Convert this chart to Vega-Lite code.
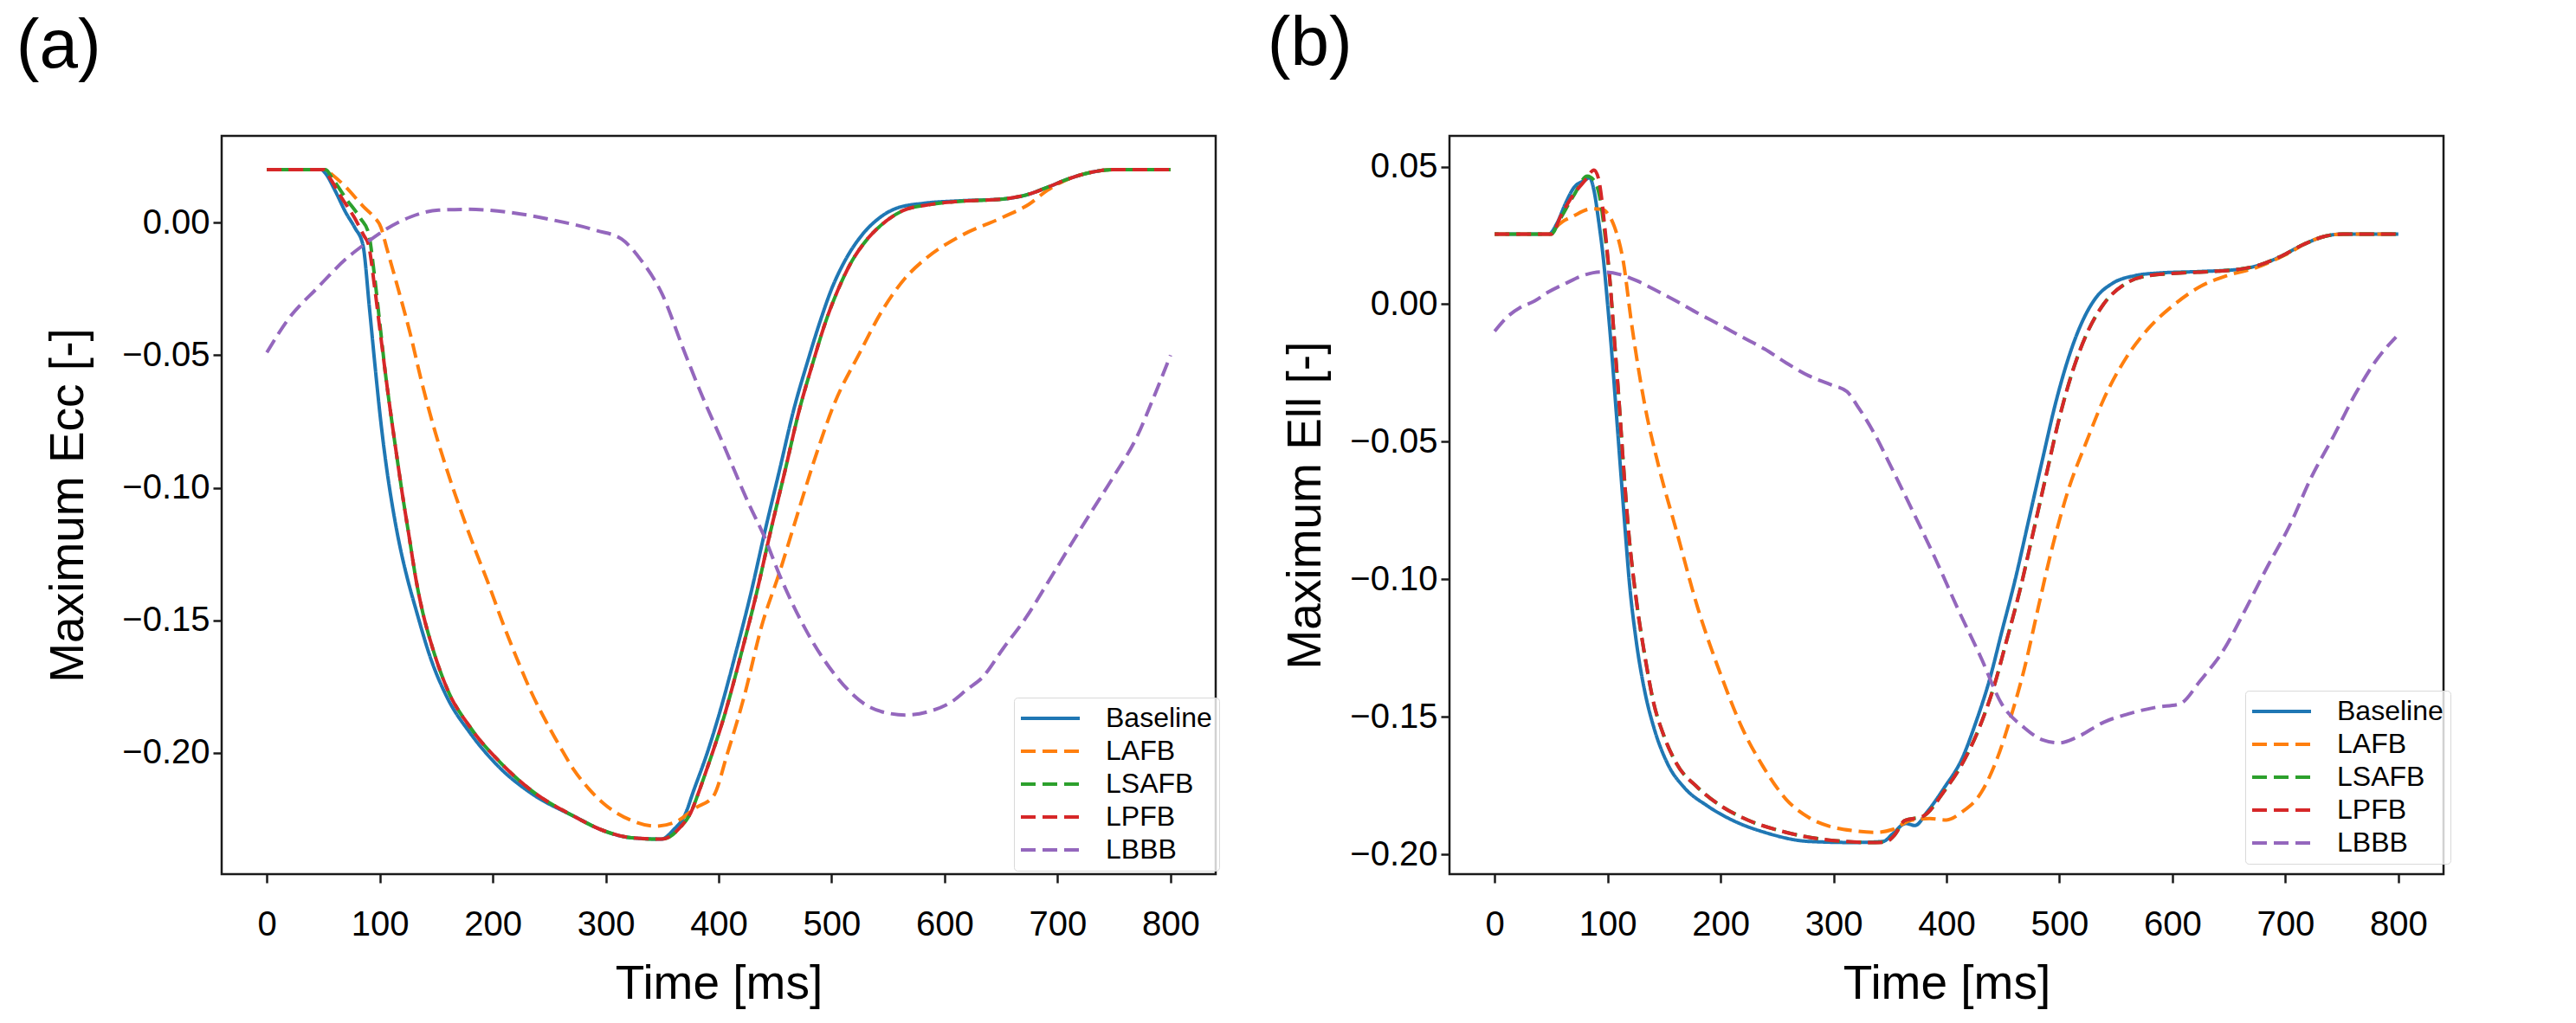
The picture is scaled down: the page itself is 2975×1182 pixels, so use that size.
{
  "$schema": "https://vega.github.io/schema/vega-lite/v6.json",
  "background": "white",
  "padding": {"left": 17, "top": 9, "right": 5, "bottom": 5},
  "spacing": 52,
  "datasets": {
    "ecc": [
      {"series": "Baseline", "time": 0, "value": 0.02},
      {"series": "Baseline", "time": 48, "value": 0.02},
      {"series": "Baseline", "time": 52, "value": 0.0185},
      {"series": "Baseline", "time": 60, "value": 0.0124},
      {"series": "Baseline", "time": 70, "value": 0.0037},
      {"series": "Baseline", "time": 78, "value": -0.002},
      {"series": "Baseline", "time": 85, "value": -0.0083},
      {"series": "Baseline", "time": 91, "value": -0.033},
      {"series": "Baseline", "time": 96, "value": -0.055},
      {"series": "Baseline", "time": 101, "value": -0.0755},
      {"series": "Baseline", "time": 106, "value": -0.0925},
      {"series": "Baseline", "time": 112, "value": -0.109},
      {"series": "Baseline", "time": 118, "value": -0.1225},
      {"series": "Baseline", "time": 124, "value": -0.1335},
      {"series": "Baseline", "time": 132, "value": -0.1459},
      {"series": "Baseline", "time": 145, "value": -0.1643},
      {"series": "Baseline", "time": 160, "value": -0.1794},
      {"series": "Baseline", "time": 180, "value": -0.1925},
      {"series": "Baseline", "time": 206, "value": -0.2055},
      {"series": "Baseline", "time": 234, "value": -0.2152},
      {"series": "Baseline", "time": 272, "value": -0.2239},
      {"series": "Baseline", "time": 298, "value": -0.2293},
      {"series": "Baseline", "time": 323, "value": -0.232},
      {"series": "Baseline", "time": 349, "value": -0.2325},
      {"series": "Baseline", "time": 360, "value": -0.229},
      {"series": "Baseline", "time": 371, "value": -0.2225},
      {"series": "Baseline", "time": 377, "value": -0.2152},
      {"series": "Baseline", "time": 390, "value": -0.1998},
      {"series": "Baseline", "time": 402, "value": -0.1831},
      {"series": "Baseline", "time": 415, "value": -0.1625},
      {"series": "Baseline", "time": 428, "value": -0.1407},
      {"series": "Baseline", "time": 441, "value": -0.1163},
      {"series": "Baseline", "time": 454, "value": -0.0931},
      {"series": "Baseline", "time": 466, "value": -0.0713},
      {"series": "Baseline", "time": 479, "value": -0.052},
      {"series": "Baseline", "time": 490, "value": -0.037},
      {"series": "Baseline", "time": 500, "value": -0.025},
      {"series": "Baseline", "time": 511, "value": -0.015},
      {"series": "Baseline", "time": 527, "value": -0.0046},
      {"series": "Baseline", "time": 543, "value": 0.002},
      {"series": "Baseline", "time": 558, "value": 0.0055},
      {"series": "Baseline", "time": 582, "value": 0.0073},
      {"series": "Baseline", "time": 613, "value": 0.0082},
      {"series": "Baseline", "time": 652, "value": 0.0089},
      {"series": "Baseline", "time": 672, "value": 0.0104},
      {"series": "Baseline", "time": 691, "value": 0.0133},
      {"series": "Baseline", "time": 711, "value": 0.0167},
      {"series": "Baseline", "time": 730, "value": 0.019},
      {"series": "Baseline", "time": 750, "value": 0.02},
      {"series": "Baseline", "time": 800, "value": 0.02},

      {"series": "LAFB", "time": 0, "value": 0.02},
      {"series": "LAFB", "time": 52, "value": 0.02},
      {"series": "LAFB", "time": 58, "value": 0.018},
      {"series": "LAFB", "time": 70, "value": 0.0134},
      {"series": "LAFB", "time": 86, "value": 0.0058},
      {"series": "LAFB", "time": 94, "value": 0.0025},
      {"series": "LAFB", "time": 101, "value": -0.0018},
      {"series": "LAFB", "time": 106, "value": -0.0094},
      {"series": "LAFB", "time": 116, "value": -0.0246},
      {"series": "LAFB", "time": 127, "value": -0.042},
      {"series": "LAFB", "time": 137, "value": -0.06},
      {"series": "LAFB", "time": 147, "value": -0.076},
      {"series": "LAFB", "time": 160, "value": -0.094},
      {"series": "LAFB", "time": 172, "value": -0.109},
      {"series": "LAFB", "time": 185, "value": -0.124},
      {"series": "LAFB", "time": 196, "value": -0.136},
      {"series": "LAFB", "time": 208, "value": -0.15},
      {"series": "LAFB", "time": 221, "value": -0.164},
      {"series": "LAFB", "time": 234, "value": -0.177},
      {"series": "LAFB", "time": 247, "value": -0.188},
      {"series": "LAFB", "time": 260, "value": -0.198},
      {"series": "LAFB", "time": 272, "value": -0.2065},
      {"series": "LAFB", "time": 285, "value": -0.2135},
      {"series": "LAFB", "time": 298, "value": -0.219},
      {"series": "LAFB", "time": 323, "value": -0.2255},
      {"series": "LAFB", "time": 344, "value": -0.2276},
      {"series": "LAFB", "time": 362, "value": -0.226},
      {"series": "LAFB", "time": 380, "value": -0.2206},
      {"series": "LAFB", "time": 395, "value": -0.2165},
      {"series": "LAFB", "time": 408, "value": -0.1998},
      {"series": "LAFB", "time": 423, "value": -0.178},
      {"series": "LAFB", "time": 438, "value": -0.1522},
      {"series": "LAFB", "time": 454, "value": -0.1317},
      {"series": "LAFB", "time": 469, "value": -0.111},
      {"series": "LAFB", "time": 484, "value": -0.0905},
      {"series": "LAFB", "time": 502, "value": -0.0687},
      {"series": "LAFB", "time": 525, "value": -0.049},
      {"series": "LAFB", "time": 545, "value": -0.033},
      {"series": "LAFB", "time": 565, "value": -0.021},
      {"series": "LAFB", "time": 585, "value": -0.013},
      {"series": "LAFB", "time": 613, "value": -0.0053},
      {"series": "LAFB", "time": 652, "value": 0.0021},
      {"series": "LAFB", "time": 675, "value": 0.007},
      {"series": "LAFB", "time": 691, "value": 0.0122},
      {"series": "LAFB", "time": 711, "value": 0.0167},
      {"series": "LAFB", "time": 730, "value": 0.019},
      {"series": "LAFB", "time": 750, "value": 0.02},
      {"series": "LAFB", "time": 800, "value": 0.02},

      {"series": "LSAFB", "time": 0, "value": 0.02},
      {"series": "LSAFB", "time": 52, "value": 0.02},
      {"series": "LSAFB", "time": 58, "value": 0.0167},
      {"series": "LSAFB", "time": 70, "value": 0.0091},
      {"series": "LSAFB", "time": 83, "value": 0.0015},
      {"series": "LSAFB", "time": 90, "value": -0.0039},
      {"series": "LSAFB", "time": 95, "value": -0.019},
      {"series": "LSAFB", "time": 100, "value": -0.038},
      {"series": "LSAFB", "time": 105, "value": -0.057},
      {"series": "LSAFB", "time": 110, "value": -0.073},
      {"series": "LSAFB", "time": 115, "value": -0.088},
      {"series": "LSAFB", "time": 120, "value": -0.1025},
      {"series": "LSAFB", "time": 126, "value": -0.1185},
      {"series": "LSAFB", "time": 132, "value": -0.1345},
      {"series": "LSAFB", "time": 138, "value": -0.147},
      {"series": "LSAFB", "time": 145, "value": -0.158},
      {"series": "LSAFB", "time": 160, "value": -0.1762},
      {"series": "LSAFB", "time": 180, "value": -0.1903},
      {"series": "LSAFB", "time": 206, "value": -0.2033},
      {"series": "LSAFB", "time": 234, "value": -0.2141},
      {"series": "LSAFB", "time": 272, "value": -0.2239},
      {"series": "LSAFB", "time": 298, "value": -0.2293},
      {"series": "LSAFB", "time": 323, "value": -0.232},
      {"series": "LSAFB", "time": 349, "value": -0.2325},
      {"series": "LSAFB", "time": 357, "value": -0.2315},
      {"series": "LSAFB", "time": 366, "value": -0.228},
      {"series": "LSAFB", "time": 375, "value": -0.2228},
      {"series": "LSAFB", "time": 382, "value": -0.2152},
      {"series": "LSAFB", "time": 390, "value": -0.2055},
      {"series": "LSAFB", "time": 405, "value": -0.186},
      {"series": "LSAFB", "time": 420, "value": -0.1625},
      {"series": "LSAFB", "time": 433, "value": -0.1407},
      {"series": "LSAFB", "time": 446, "value": -0.1163},
      {"series": "LSAFB", "time": 459, "value": -0.0931},
      {"series": "LSAFB", "time": 471, "value": -0.0713},
      {"series": "LSAFB", "time": 484, "value": -0.052},
      {"series": "LSAFB", "time": 495, "value": -0.037},
      {"series": "LSAFB", "time": 505, "value": -0.026},
      {"series": "LSAFB", "time": 516, "value": -0.016},
      {"series": "LSAFB", "time": 532, "value": -0.006},
      {"series": "LSAFB", "time": 548, "value": 0.0005},
      {"series": "LSAFB", "time": 563, "value": 0.0045},
      {"series": "LSAFB", "time": 587, "value": 0.0068},
      {"series": "LSAFB", "time": 613, "value": 0.008},
      {"series": "LSAFB", "time": 652, "value": 0.0089},
      {"series": "LSAFB", "time": 672, "value": 0.0104},
      {"series": "LSAFB", "time": 691, "value": 0.0133},
      {"series": "LSAFB", "time": 711, "value": 0.0167},
      {"series": "LSAFB", "time": 730, "value": 0.019},
      {"series": "LSAFB", "time": 750, "value": 0.02},
      {"series": "LSAFB", "time": 800, "value": 0.02},

      {"series": "LPFB", "time": 0, "value": 0.02},
      {"series": "LPFB", "time": 50, "value": 0.02},
      {"series": "LPFB", "time": 57, "value": 0.016},
      {"series": "LPFB", "time": 65, "value": 0.0102},
      {"series": "LPFB", "time": 78, "value": 0.0015},
      {"series": "LPFB", "time": 86, "value": -0.005},
      {"series": "LPFB", "time": 90, "value": -0.0083},
      {"series": "LPFB", "time": 95, "value": -0.023},
      {"series": "LPFB", "time": 100, "value": -0.04},
      {"series": "LPFB", "time": 105, "value": -0.057},
      {"series": "LPFB", "time": 110, "value": -0.073},
      {"series": "LPFB", "time": 115, "value": -0.088},
      {"series": "LPFB", "time": 120, "value": -0.1025},
      {"series": "LPFB", "time": 126, "value": -0.1185},
      {"series": "LPFB", "time": 132, "value": -0.1345},
      {"series": "LPFB", "time": 138, "value": -0.147},
      {"series": "LPFB", "time": 145, "value": -0.158},
      {"series": "LPFB", "time": 160, "value": -0.1762},
      {"series": "LPFB", "time": 180, "value": -0.1903},
      {"series": "LPFB", "time": 206, "value": -0.2033},
      {"series": "LPFB", "time": 234, "value": -0.2141},
      {"series": "LPFB", "time": 272, "value": -0.2239},
      {"series": "LPFB", "time": 298, "value": -0.2293},
      {"series": "LPFB", "time": 323, "value": -0.232},
      {"series": "LPFB", "time": 349, "value": -0.2325},
      {"series": "LPFB", "time": 357, "value": -0.2315},
      {"series": "LPFB", "time": 366, "value": -0.228},
      {"series": "LPFB", "time": 375, "value": -0.2228},
      {"series": "LPFB", "time": 382, "value": -0.2152},
      {"series": "LPFB", "time": 390, "value": -0.2055},
      {"series": "LPFB", "time": 405, "value": -0.186},
      {"series": "LPFB", "time": 420, "value": -0.1625},
      {"series": "LPFB", "time": 433, "value": -0.1407},
      {"series": "LPFB", "time": 446, "value": -0.1163},
      {"series": "LPFB", "time": 459, "value": -0.0931},
      {"series": "LPFB", "time": 471, "value": -0.0713},
      {"series": "LPFB", "time": 484, "value": -0.052},
      {"series": "LPFB", "time": 495, "value": -0.037},
      {"series": "LPFB", "time": 505, "value": -0.026},
      {"series": "LPFB", "time": 516, "value": -0.016},
      {"series": "LPFB", "time": 532, "value": -0.006},
      {"series": "LPFB", "time": 548, "value": 0.0005},
      {"series": "LPFB", "time": 563, "value": 0.0045},
      {"series": "LPFB", "time": 587, "value": 0.0068},
      {"series": "LPFB", "time": 613, "value": 0.008},
      {"series": "LPFB", "time": 652, "value": 0.0089},
      {"series": "LPFB", "time": 672, "value": 0.0104},
      {"series": "LPFB", "time": 691, "value": 0.0133},
      {"series": "LPFB", "time": 711, "value": 0.0167},
      {"series": "LPFB", "time": 730, "value": 0.019},
      {"series": "LPFB", "time": 750, "value": 0.02},
      {"series": "LPFB", "time": 800, "value": 0.02},

      {"series": "LBBB", "time": 0, "value": -0.049},
      {"series": "LBBB", "time": 19, "value": -0.0364},
      {"series": "LBBB", "time": 45, "value": -0.0245},
      {"series": "LBBB", "time": 70, "value": -0.0137},
      {"series": "LBBB", "time": 86, "value": -0.0083},
      {"series": "LBBB", "time": 104, "value": -0.0029},
      {"series": "LBBB", "time": 127, "value": 0.0021},
      {"series": "LBBB", "time": 152, "value": 0.0047},
      {"series": "LBBB", "time": 178, "value": 0.005},
      {"series": "LBBB", "time": 214, "value": 0.0039},
      {"series": "LBBB", "time": 253, "value": 0.001},
      {"series": "LBBB", "time": 292, "value": -0.003},
      {"series": "LBBB", "time": 314, "value": -0.0062},
      {"series": "LBBB", "time": 331, "value": -0.014},
      {"series": "LBBB", "time": 350, "value": -0.027},
      {"series": "LBBB", "time": 369, "value": -0.048},
      {"series": "LBBB", "time": 385, "value": -0.065},
      {"series": "LBBB", "time": 402, "value": -0.0815},
      {"series": "LBBB", "time": 428, "value": -0.1073},
      {"series": "LBBB", "time": 440, "value": -0.118},
      {"series": "LBBB", "time": 454, "value": -0.133},
      {"series": "LBBB", "time": 479, "value": -0.155},
      {"series": "LBBB", "time": 505, "value": -0.1716},
      {"series": "LBBB", "time": 530, "value": -0.1818},
      {"series": "LBBB", "time": 550, "value": -0.185},
      {"series": "LBBB", "time": 566, "value": -0.1857},
      {"series": "LBBB", "time": 585, "value": -0.1845},
      {"series": "LBBB", "time": 607, "value": -0.1805},
      {"series": "LBBB", "time": 620, "value": -0.176},
      {"series": "LBBB", "time": 633, "value": -0.1717},
      {"series": "LBBB", "time": 652, "value": -0.1605},
      {"series": "LBBB", "time": 672, "value": -0.149},
      {"series": "LBBB", "time": 691, "value": -0.136},
      {"series": "LBBB", "time": 711, "value": -0.122},
      {"series": "LBBB", "time": 730, "value": -0.109},
      {"series": "LBBB", "time": 750, "value": -0.0955},
      {"series": "LBBB", "time": 770, "value": -0.081},
      {"series": "LBBB", "time": 785, "value": -0.066},
      {"series": "LBBB", "time": 800, "value": -0.05}
    ],
    "ell": [
      {"series": "Baseline", "time": 0, "value": 0.0255},
      {"series": "Baseline", "time": 48, "value": 0.0255},
      {"series": "Baseline", "time": 55, "value": 0.0293},
      {"series": "Baseline", "time": 63, "value": 0.0369},
      {"series": "Baseline", "time": 70, "value": 0.0423},
      {"series": "Baseline", "time": 80, "value": 0.0451},
      {"series": "Baseline", "time": 84, "value": 0.046},
      {"series": "Baseline", "time": 88, "value": 0.0412},
      {"series": "Baseline", "time": 92, "value": 0.0304},
      {"series": "Baseline", "time": 96, "value": 0.0174},
      {"series": "Baseline", "time": 100, "value": 0.0},
      {"series": "Baseline", "time": 104, "value": -0.0195},
      {"series": "Baseline", "time": 108, "value": -0.0412},
      {"series": "Baseline", "time": 112, "value": -0.063},
      {"series": "Baseline", "time": 116, "value": -0.0846},
      {"series": "Baseline", "time": 119, "value": -0.1},
      {"series": "Baseline", "time": 125, "value": -0.1215},
      {"series": "Baseline", "time": 133, "value": -0.141},
      {"series": "Baseline", "time": 141, "value": -0.154},
      {"series": "Baseline", "time": 153, "value": -0.167},
      {"series": "Baseline", "time": 168, "value": -0.1758},
      {"series": "Baseline", "time": 188, "value": -0.1823},
      {"series": "Baseline", "time": 211, "value": -0.1877},
      {"series": "Baseline", "time": 239, "value": -0.192},
      {"series": "Baseline", "time": 278, "value": -0.1953},
      {"series": "Baseline", "time": 317, "value": -0.1957},
      {"series": "Baseline", "time": 344, "value": -0.1953},
      {"series": "Baseline", "time": 352, "value": -0.1927},
      {"series": "Baseline", "time": 364, "value": -0.1888},
      {"series": "Baseline", "time": 372, "value": -0.1895},
      {"series": "Baseline", "time": 383, "value": -0.1845},
      {"series": "Baseline", "time": 398, "value": -0.1758},
      {"series": "Baseline", "time": 414, "value": -0.165},
      {"series": "Baseline", "time": 426, "value": -0.152},
      {"series": "Baseline", "time": 438, "value": -0.1367},
      {"series": "Baseline", "time": 449, "value": -0.119},
      {"series": "Baseline", "time": 461, "value": -0.0998},
      {"series": "Baseline", "time": 473, "value": -0.0781},
      {"series": "Baseline", "time": 485, "value": -0.0564},
      {"series": "Baseline", "time": 496, "value": -0.0369},
      {"series": "Baseline", "time": 508, "value": -0.0195},
      {"series": "Baseline", "time": 520, "value": -0.0065},
      {"series": "Baseline", "time": 532, "value": 0.0022},
      {"series": "Baseline", "time": 547, "value": 0.0076},
      {"series": "Baseline", "time": 567, "value": 0.0104},
      {"series": "Baseline", "time": 586, "value": 0.0113},
      {"series": "Baseline", "time": 625, "value": 0.0119},
      {"series": "Baseline", "time": 657, "value": 0.0126},
      {"series": "Baseline", "time": 676, "value": 0.0141},
      {"series": "Baseline", "time": 696, "value": 0.0174},
      {"series": "Baseline", "time": 716, "value": 0.0217},
      {"series": "Baseline", "time": 735, "value": 0.0247},
      {"series": "Baseline", "time": 751, "value": 0.0255},
      {"series": "Baseline", "time": 800, "value": 0.0255},

      {"series": "LAFB", "time": 0, "value": 0.0255},
      {"series": "LAFB", "time": 50, "value": 0.0255},
      {"series": "LAFB", "time": 55, "value": 0.0282},
      {"series": "LAFB", "time": 70, "value": 0.0321},
      {"series": "LAFB", "time": 86, "value": 0.0347},
      {"series": "LAFB", "time": 95, "value": 0.0345},
      {"series": "LAFB", "time": 100, "value": 0.033},
      {"series": "LAFB", "time": 106, "value": 0.0282},
      {"series": "LAFB", "time": 114, "value": 0.0152},
      {"series": "LAFB", "time": 121, "value": -0.0065},
      {"series": "LAFB", "time": 133, "value": -0.0369},
      {"series": "LAFB", "time": 145, "value": -0.0586},
      {"series": "LAFB", "time": 161, "value": -0.0825},
      {"series": "LAFB", "time": 180, "value": -0.1107},
      {"series": "LAFB", "time": 200, "value": -0.1345},
      {"series": "LAFB", "time": 219, "value": -0.154},
      {"series": "LAFB", "time": 239, "value": -0.169},
      {"series": "LAFB", "time": 258, "value": -0.18},
      {"series": "LAFB", "time": 278, "value": -0.1866},
      {"series": "LAFB", "time": 298, "value": -0.19},
      {"series": "LAFB", "time": 317, "value": -0.1914},
      {"series": "LAFB", "time": 337, "value": -0.192},
      {"series": "LAFB", "time": 352, "value": -0.191},
      {"series": "LAFB", "time": 368, "value": -0.1877},
      {"series": "LAFB", "time": 385, "value": -0.187},
      {"series": "LAFB", "time": 400, "value": -0.1875},
      {"series": "LAFB", "time": 414, "value": -0.1845},
      {"series": "LAFB", "time": 430, "value": -0.178},
      {"series": "LAFB", "time": 445, "value": -0.165},
      {"series": "LAFB", "time": 457, "value": -0.15},
      {"series": "LAFB", "time": 469, "value": -0.1324},
      {"series": "LAFB", "time": 481, "value": -0.1107},
      {"series": "LAFB", "time": 492, "value": -0.0911},
      {"series": "LAFB", "time": 508, "value": -0.0673},
      {"series": "LAFB", "time": 524, "value": -0.0499},
      {"series": "LAFB", "time": 539, "value": -0.0347},
      {"series": "LAFB", "time": 559, "value": -0.0195},
      {"series": "LAFB", "time": 579, "value": -0.0087},
      {"series": "LAFB", "time": 602, "value": 0.0},
      {"series": "LAFB", "time": 625, "value": 0.0065},
      {"series": "LAFB", "time": 649, "value": 0.0105},
      {"series": "LAFB", "time": 672, "value": 0.013},
      {"series": "LAFB", "time": 690, "value": 0.016},
      {"series": "LAFB", "time": 705, "value": 0.019},
      {"series": "LAFB", "time": 716, "value": 0.0217},
      {"series": "LAFB", "time": 735, "value": 0.0247},
      {"series": "LAFB", "time": 751, "value": 0.0255},
      {"series": "LAFB", "time": 800, "value": 0.0255},

      {"series": "LSAFB", "time": 0, "value": 0.0255},
      {"series": "LSAFB", "time": 50, "value": 0.0255},
      {"series": "LSAFB", "time": 58, "value": 0.031},
      {"series": "LSAFB", "time": 70, "value": 0.0395},
      {"series": "LSAFB", "time": 82, "value": 0.0466},
      {"series": "LSAFB", "time": 88, "value": 0.045},
      {"series": "LSAFB", "time": 93, "value": 0.039},
      {"series": "LSAFB", "time": 98, "value": 0.024},
      {"series": "LSAFB", "time": 102, "value": 0.0087},
      {"series": "LSAFB", "time": 106, "value": -0.013},
      {"series": "LSAFB", "time": 110, "value": -0.0347},
      {"series": "LSAFB", "time": 114, "value": -0.0586},
      {"series": "LSAFB", "time": 119, "value": -0.0846},
      {"series": "LSAFB", "time": 125, "value": -0.1063},
      {"series": "LSAFB", "time": 133, "value": -0.128},
      {"series": "LSAFB", "time": 141, "value": -0.1454},
      {"series": "LSAFB", "time": 149, "value": -0.156},
      {"series": "LSAFB", "time": 161, "value": -0.167},
      {"series": "LSAFB", "time": 180, "value": -0.1758},
      {"series": "LSAFB", "time": 200, "value": -0.1823},
      {"series": "LSAFB", "time": 219, "value": -0.1866},
      {"series": "LSAFB", "time": 258, "value": -0.192},
      {"series": "LSAFB", "time": 298, "value": -0.1949},
      {"series": "LSAFB", "time": 337, "value": -0.1957},
      {"series": "LSAFB", "time": 346, "value": -0.1955},
      {"series": "LSAFB", "time": 354, "value": -0.193},
      {"series": "LSAFB", "time": 363, "value": -0.1877},
      {"series": "LSAFB", "time": 379, "value": -0.1862},
      {"series": "LSAFB", "time": 398, "value": -0.177},
      {"series": "LSAFB", "time": 414, "value": -0.167},
      {"series": "LSAFB", "time": 430, "value": -0.153},
      {"series": "LSAFB", "time": 442, "value": -0.139},
      {"series": "LSAFB", "time": 453, "value": -0.1226},
      {"series": "LSAFB", "time": 465, "value": -0.104},
      {"series": "LSAFB", "time": 477, "value": -0.0825},
      {"series": "LSAFB", "time": 489, "value": -0.0608},
      {"series": "LSAFB", "time": 500, "value": -0.0412},
      {"series": "LSAFB", "time": 512, "value": -0.0239},
      {"series": "LSAFB", "time": 524, "value": -0.0109},
      {"series": "LSAFB", "time": 539, "value": 0.0},
      {"series": "LSAFB", "time": 559, "value": 0.0076},
      {"series": "LSAFB", "time": 579, "value": 0.0104},
      {"series": "LSAFB", "time": 606, "value": 0.0113},
      {"series": "LSAFB", "time": 640, "value": 0.012},
      {"series": "LSAFB", "time": 657, "value": 0.0126},
      {"series": "LSAFB", "time": 676, "value": 0.0141},
      {"series": "LSAFB", "time": 696, "value": 0.0174},
      {"series": "LSAFB", "time": 716, "value": 0.0217},
      {"series": "LSAFB", "time": 735, "value": 0.0247},
      {"series": "LSAFB", "time": 751, "value": 0.0255},
      {"series": "LSAFB", "time": 800, "value": 0.0255},

      {"series": "LPFB", "time": 0, "value": 0.0255},
      {"series": "LPFB", "time": 50, "value": 0.0255},
      {"series": "LPFB", "time": 59, "value": 0.0325},
      {"series": "LPFB", "time": 70, "value": 0.04},
      {"series": "LPFB", "time": 80, "value": 0.045},
      {"series": "LPFB", "time": 88, "value": 0.0488},
      {"series": "LPFB", "time": 92, "value": 0.0455},
      {"series": "LPFB", "time": 98, "value": 0.026},
      {"series": "LPFB", "time": 102, "value": 0.0087},
      {"series": "LPFB", "time": 106, "value": -0.013},
      {"series": "LPFB", "time": 110, "value": -0.0347},
      {"series": "LPFB", "time": 114, "value": -0.0586},
      {"series": "LPFB", "time": 119, "value": -0.0846},
      {"series": "LPFB", "time": 125, "value": -0.1063},
      {"series": "LPFB", "time": 133, "value": -0.128},
      {"series": "LPFB", "time": 141, "value": -0.1454},
      {"series": "LPFB", "time": 149, "value": -0.156},
      {"series": "LPFB", "time": 161, "value": -0.167},
      {"series": "LPFB", "time": 180, "value": -0.1758},
      {"series": "LPFB", "time": 200, "value": -0.1823},
      {"series": "LPFB", "time": 219, "value": -0.1866},
      {"series": "LPFB", "time": 258, "value": -0.192},
      {"series": "LPFB", "time": 298, "value": -0.1949},
      {"series": "LPFB", "time": 337, "value": -0.1957},
      {"series": "LPFB", "time": 346, "value": -0.1955},
      {"series": "LPFB", "time": 354, "value": -0.193},
      {"series": "LPFB", "time": 363, "value": -0.1877},
      {"series": "LPFB", "time": 379, "value": -0.1862},
      {"series": "LPFB", "time": 398, "value": -0.177},
      {"series": "LPFB", "time": 414, "value": -0.167},
      {"series": "LPFB", "time": 430, "value": -0.153},
      {"series": "LPFB", "time": 442, "value": -0.139},
      {"series": "LPFB", "time": 453, "value": -0.1226},
      {"series": "LPFB", "time": 465, "value": -0.104},
      {"series": "LPFB", "time": 477, "value": -0.0825},
      {"series": "LPFB", "time": 489, "value": -0.0608},
      {"series": "LPFB", "time": 500, "value": -0.0412},
      {"series": "LPFB", "time": 512, "value": -0.0239},
      {"series": "LPFB", "time": 524, "value": -0.0109},
      {"series": "LPFB", "time": 539, "value": 0.0},
      {"series": "LPFB", "time": 559, "value": 0.0076},
      {"series": "LPFB", "time": 579, "value": 0.0104},
      {"series": "LPFB", "time": 606, "value": 0.0113},
      {"series": "LPFB", "time": 640, "value": 0.012},
      {"series": "LPFB", "time": 657, "value": 0.0126},
      {"series": "LPFB", "time": 676, "value": 0.0141},
      {"series": "LPFB", "time": 696, "value": 0.0174},
      {"series": "LPFB", "time": 716, "value": 0.0217},
      {"series": "LPFB", "time": 735, "value": 0.0247},
      {"series": "LPFB", "time": 751, "value": 0.0255},
      {"series": "LPFB", "time": 800, "value": 0.0255},

      {"series": "LBBB", "time": 0, "value": -0.0098},
      {"series": "LBBB", "time": 12, "value": -0.0043},
      {"series": "LBBB", "time": 23, "value": -0.0011},
      {"series": "LBBB", "time": 35, "value": 0.0011},
      {"series": "LBBB", "time": 47, "value": 0.0043},
      {"series": "LBBB", "time": 63, "value": 0.0076},
      {"series": "LBBB", "time": 78, "value": 0.0104},
      {"series": "LBBB", "time": 94, "value": 0.0117},
      {"series": "LBBB", "time": 110, "value": 0.0109},
      {"series": "LBBB", "time": 125, "value": 0.0087},
      {"series": "LBBB", "time": 141, "value": 0.0054},
      {"series": "LBBB", "time": 161, "value": 0.0011},
      {"series": "LBBB", "time": 180, "value": -0.0033},
      {"series": "LBBB", "time": 200, "value": -0.0076},
      {"series": "LBBB", "time": 219, "value": -0.0119},
      {"series": "LBBB", "time": 239, "value": -0.0163},
      {"series": "LBBB", "time": 258, "value": -0.0213},
      {"series": "LBBB", "time": 278, "value": -0.026},
      {"series": "LBBB", "time": 298, "value": -0.0293},
      {"series": "LBBB", "time": 312, "value": -0.0318},
      {"series": "LBBB", "time": 321, "value": -0.0369},
      {"series": "LBBB", "time": 337, "value": -0.0477},
      {"series": "LBBB", "time": 352, "value": -0.06},
      {"series": "LBBB", "time": 371, "value": -0.076},
      {"series": "LBBB", "time": 391, "value": -0.0933},
      {"series": "LBBB", "time": 410, "value": -0.1107},
      {"series": "LBBB", "time": 430, "value": -0.128},
      {"series": "LBBB", "time": 449, "value": -0.1454},
      {"series": "LBBB", "time": 469, "value": -0.154},
      {"series": "LBBB", "time": 485, "value": -0.1584},
      {"series": "LBBB", "time": 500, "value": -0.1595},
      {"series": "LBBB", "time": 516, "value": -0.1573},
      {"series": "LBBB", "time": 539, "value": -0.152},
      {"series": "LBBB", "time": 563, "value": -0.1487},
      {"series": "LBBB", "time": 586, "value": -0.1465},
      {"series": "LBBB", "time": 606, "value": -0.1454},
      {"series": "LBBB", "time": 625, "value": -0.1367},
      {"series": "LBBB", "time": 645, "value": -0.1259},
      {"series": "LBBB", "time": 665, "value": -0.1107},
      {"series": "LBBB", "time": 684, "value": -0.0955},
      {"series": "LBBB", "time": 704, "value": -0.0803},
      {"series": "LBBB", "time": 723, "value": -0.0629},
      {"series": "LBBB", "time": 743, "value": -0.0477},
      {"series": "LBBB", "time": 762, "value": -0.0326},
      {"series": "LBBB", "time": 782, "value": -0.0195},
      {"series": "LBBB", "time": 798, "value": -0.0119}
    ]
  },
  "hconcat": [
    {
      "width": 1148,
      "height": 853,
      "data": {"name": "ecc"},
      "title": {"text": "(a)", "anchor": "start", "fontSize": 80, "fontWeight": "normal", "baseline": "alphabetic", "offset": -1, "dx": -33, "color": "#000"},
      "encoding": {
        "x": {"field": "time", "type": "quantitative", "scale": {"domain": [-40, 840], "nice": false, "zero": false},
              "axis": {"title": "Time [ms]", "values": [0, 100, 200, 300, 400, 500, 600, 700, 800], "format": "d"}},
        "y": {"field": "value", "type": "quantitative", "scale": {"domain": [-0.2457, 0.0327], "nice": false, "zero": false},
              "axis": {"title": "Maximum Ecc [-]", "values": [-0.2, -0.15, -0.1, -0.05, 0], "format": ".2f", "titlePadding": 33}},
        "color": {"field": "series", "type": "nominal",
                  "scale": {"domain": ["Baseline", "LAFB", "LSAFB", "LPFB", "LBBB"], "range": ["#1f77b4", "#ff7f0e", "#2ca02c", "#d62728", "#9467bd"]},
                  "legend": {"title": null, "legendX": 915, "legendY": 649,
                             "encode": {"symbols": {"update": {"strokeDash": {"signal": "datum.value === 'Baseline' ? [1, 0] : [17, 17]"}}}}}},
        "strokeDash": {"field": "series", "type": "nominal",
                  "scale": {"domain": ["Baseline", "LAFB", "LSAFB", "LPFB", "LBBB"], "range": [[1, 0], [17, 8], [17, 8], [17, 8], [17, 8]]},
                  "legend": null}
      },
      "layer": [
        {"transform": [{"filter": "datum.series === 'Baseline'"}], "mark": {"type": "line", "strokeWidth": 4, "interpolate": "monotone"}},
        {"transform": [{"filter": "datum.series === 'LAFB'"}], "mark": {"type": "line", "strokeWidth": 4, "interpolate": "monotone"}},
        {"transform": [{"filter": "datum.series === 'LSAFB'"}], "mark": {"type": "line", "strokeWidth": 4, "interpolate": "monotone", "strokeDashOffset": 12.5}},
        {"transform": [{"filter": "datum.series === 'LPFB'"}], "mark": {"type": "line", "strokeWidth": 4, "interpolate": "monotone"}},
        {"transform": [{"filter": "datum.series === 'LBBB'"}], "mark": {"type": "line", "strokeWidth": 4, "interpolate": "monotone"}}
      ]
    },
    {
      "width": 1148,
      "height": 853,
      "data": {"name": "ell"},
      "title": {"text": "(b)", "anchor": "start", "fontSize": 80, "fontWeight": "normal", "baseline": "alphabetic", "offset": 2, "dx": -17, "color": "#000"},
      "encoding": {
        "x": {"field": "time", "type": "quantitative", "scale": {"domain": [-40, 840], "nice": false, "zero": false},
              "axis": {"title": "Time [ms]", "values": [0, 100, 200, 300, 400, 500, 600, 700, 800], "format": "d"}},
        "y": {"field": "value", "type": "quantitative", "scale": {"domain": [-0.2072, 0.0612], "nice": false, "zero": false},
              "axis": {"title": "Maximum Ell [-]", "values": [-0.2, -0.15, -0.1, -0.05, 0, 0.05], "format": ".2f", "titlePadding": 22}},
        "color": {"field": "series", "type": "nominal",
                  "scale": {"domain": ["Baseline", "LAFB", "LSAFB", "LPFB", "LBBB"], "range": ["#1f77b4", "#ff7f0e", "#2ca02c", "#d62728", "#9467bd"]},
                  "legend": {"title": null, "legendX": 919, "legendY": 641,
                             "encode": {"symbols": {"update": {"strokeDash": {"signal": "datum.value === 'Baseline' ? [1, 0] : [17, 17]"}}}}}},
        "strokeDash": {"field": "series", "type": "nominal",
                  "scale": {"domain": ["Baseline", "LAFB", "LSAFB", "LPFB", "LBBB"], "range": [[1, 0], [17, 8], [17, 8], [17, 8], [17, 8]]},
                  "legend": null}
      },
      "layer": [
        {"transform": [{"filter": "datum.series === 'Baseline'"}], "mark": {"type": "line", "strokeWidth": 4, "interpolate": "monotone"}},
        {"transform": [{"filter": "datum.series === 'LAFB'"}], "mark": {"type": "line", "strokeWidth": 4, "interpolate": "monotone"}},
        {"transform": [{"filter": "datum.series === 'LSAFB'"}], "mark": {"type": "line", "strokeWidth": 4, "interpolate": "monotone", "strokeDashOffset": 12.5}},
        {"transform": [{"filter": "datum.series === 'LPFB'"}], "mark": {"type": "line", "strokeWidth": 4, "interpolate": "monotone"}},
        {"transform": [{"filter": "datum.series === 'LBBB'"}], "mark": {"type": "line", "strokeWidth": 4, "interpolate": "monotone"}}
      ]
    }
  ],
  "resolve": {
    "scale": {"x": "independent", "y": "independent", "color": "independent", "strokeDash": "independent"},
    "legend": {"color": "independent", "strokeDash": "independent"}
  },
  "config": {
    "font": "Liberation Sans",
    "view": {"stroke": "#1a1a1a", "strokeWidth": 2.5},
    "axis": {"grid": false, "domain": false, "tickColor": "#1a1a1a", "tickWidth": 2.5, "tickSize": 10,
             "labelFontSize": 40, "labelColor": "#000", "titleFontSize": 55, "titleFontWeight": "normal", "titleColor": "#000"},
    "axisX": {"labelPadding": 28, "titlePadding": 22},
    "axisY": {"labelPadding": 4},
    "legend": {"orient": "none", "padding": 8, "rowPadding": 6, "labelFontSize": 32, "labelColor": "#000", "labelOffset": 48,
               "symbolType": "M-3.4,0H3.4", "symbolSize": 400, "symbolOffset": 18, "symbolStrokeWidth": 4, "strokeColor": "#d9d9d9",
               "fillColor": "rgba(255,255,255,0.8)", "cornerRadius": 4}
  }
}
